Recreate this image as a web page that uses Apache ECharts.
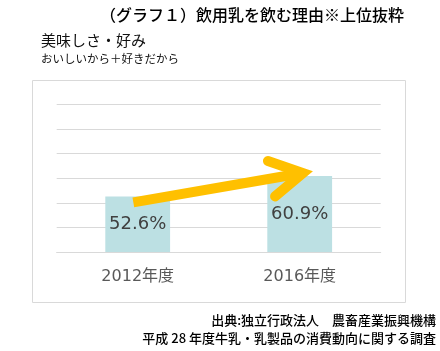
<!DOCTYPE html>
<html><head><meta charset="utf-8">
<script src="https://cdn.jsdelivr.net/npm/echarts@6/dist/echarts.min.js"></script>
<style>html,body{margin:0;padding:0;background:#fff}#c{width:440px;height:351px}</style>
</head><body><div id="c"></div>
<script>
const categories = ['2012年度', '2016年度'];
const values = [52.6, 60.9];
const yMin = 30, yMax = 90, yStep = 10;
// trend arrow (annotation) in data units: x on 0..2 span of the category band, y in %
const arrowShaft = [[0.473, 50.2], [1.52, 62.1]];
const arrowHead = [[1.304, 67.0], [1.52, 62.1], [1.348, 52.6]];
const titleText = '（グラフ１）飲用乳を飲む理由※上位抜粋';
const subTitle1 = '美味しさ・好み';
const subTitle2 = 'おいしいから＋好きだから';
const source1 = '出典:独立行政法人　農畜産業振興機構';
const source2 = '平成 28 年度牛乳・乳製品の消費動向に関する調査';

const chart = echarts.init(document.getElementById('c'), null, {renderer: 'canvas'});
const cjk = '"Noto Sans CJK JP", "Noto Sans", sans-serif';
const latin = '"DejaVu Sans", "Noto Sans CJK JP", sans-serif';
chart.setOption({
  animation: false,
  graphic: [
    {type: 'rect', shape: {x: 32.5, y: 80.5, width: 373, height: 222}, style: {fill: 'none', stroke: '#d9d9d9', lineWidth: 1}, z: -1},
    {type: 'text', style: {x: 100, y: 15, text: titleText, font: '500 16px ' + cjk, fill: '#000', textVerticalAlign: 'middle'}},
    {type: 'text', style: {x: 41, y: 40, text: subTitle1, font: '15px ' + cjk, fill: '#111', textVerticalAlign: 'middle'}},
    {type: 'text', style: {x: 41, y: 59, text: subTitle2, font: '11.5px ' + cjk, fill: '#111', textVerticalAlign: 'middle'}},
    {type: 'text', style: {x: 436, y: 320, text: source1, font: '500 13px ' + cjk, fill: '#000', textAlign: 'right', textVerticalAlign: 'middle'}},
    {type: 'text', style: {x: 436, y: 338, text: source2, font: '500 13px ' + cjk, fill: '#000', textAlign: 'right', textVerticalAlign: 'middle'}}
  ],
  grid: {left: 56.7, right: 59.3, top: 104.4, bottom: 99, containLabel: false},
  xAxis: [
    {type: 'category', data: categories, axisTick: {show: false},
     axisLine: {lineStyle: {color: '#d9d9d9', width: 1}},
     axisLabel: {fontSize: 16, fontFamily: latin, color: '#595959', margin: 17}},
    {type: 'value', min: 0, max: 2, show: false}
  ],
  yAxis: {type: 'value', min: yMin, max: yMax, interval: yStep,
    axisLabel: {show: false}, axisLine: {show: false}, axisTick: {show: false},
    splitLine: {lineStyle: {color: '#d9d9d9', width: 1}}},
  series: [
    {type: 'bar', data: values, barWidth: '40%', itemStyle: {color: '#bce0e3'},
     label: {show: true, position: 'inside', formatter: '{c}%', fontSize: 18, fontFamily: latin, color: '#404040'}},
    {type: 'line', xAxisIndex: 1, data: arrowShaft, symbol: 'none', silent: true,
     lineStyle: {color: '#ffc000', width: 10, cap: 'butt', join: 'round'}, z: 5},
    {type: 'line', xAxisIndex: 1, data: arrowHead, symbol: 'none', silent: true,
     lineStyle: {color: '#ffc000', width: 10, cap: 'round', join: 'miter', miterLimit: 10}, z: 5}
  ]
});
</script></body></html>
